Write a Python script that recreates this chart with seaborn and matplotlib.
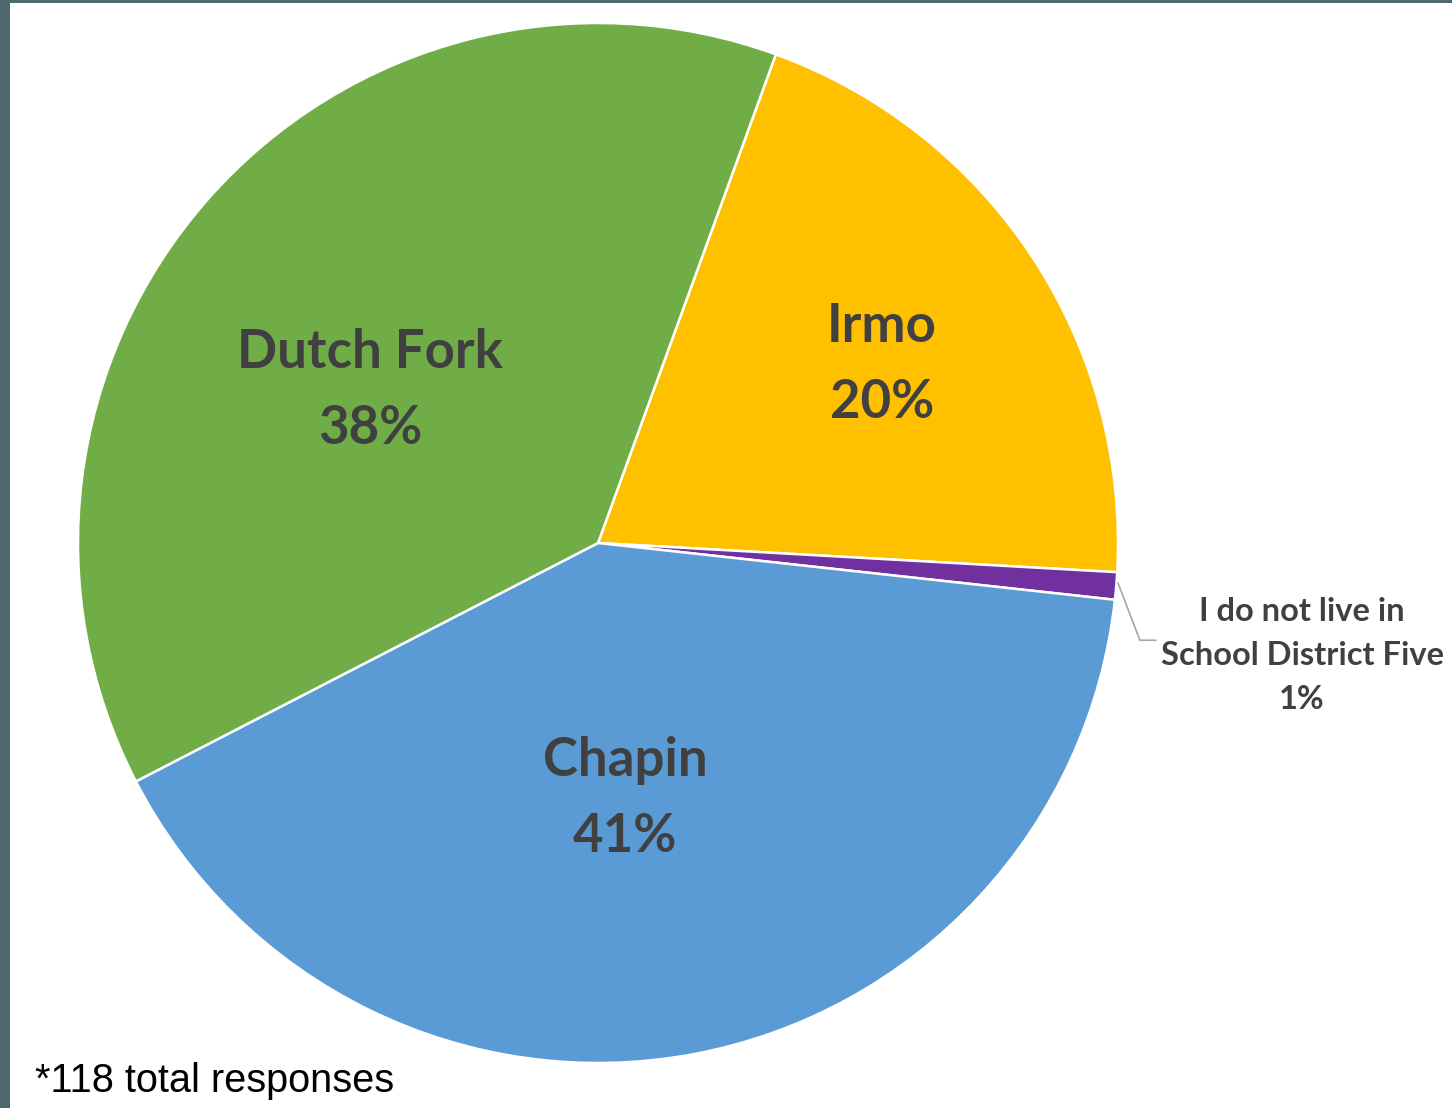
import matplotlib
matplotlib.use("Agg")
import matplotlib.pyplot as plt
from matplotlib.patches import Rectangle
import seaborn as sns

# survey answers, 118 total responses (order = clockwise from the Irmo edge)
schools = ["Irmo", "I do not live in\nSchool District Five", "Chapin", "Dutch Fork"]
responses = [24, 1, 48, 45]
pct_labels = ["20%", "1%", "41%", "38%"]
colors = ["#FFC000", "#7030A0", "#5B9BD5", "#70AD47"]

sns.set_theme(style="white")
plt.rcParams["font.family"] = ["Lato", "DejaVu Sans"]

fig = plt.figure(figsize=(14.52, 11.08), dpi=100, facecolor="#4f686e")
fig.patches.append(Rectangle((10 / 1452, 0), 1, 1 - 3 / 1108, transform=fig.transFigure,
                             facecolor="white", edgecolor="none", zorder=-10))

# pie centred at (598, 543) px, radius 520 px
ax = fig.add_axes([78 / 1452, 45 / 1108, 1040 / 1452, 1040 / 1108])
ax.set_zorder(1)
ax.patch.set_visible(False)
ax.pie(responses, colors=colors, startangle=70, counterclock=False, radius=1,
       wedgeprops=dict(edgecolor="white", linewidth=1.8))
ax.set_xlim(-1, 1)
ax.set_ylim(-1, 1)
ax.set_axis_off()

text_color = "#404040"
inside_pos = {"Irmo": (0.546, 0.344), "Chapin": (0.052, -0.492), "Dutch Fork": (-0.438, 0.294)}
for name, pct in zip(schools, pct_labels):
    if name in inside_pos:
        x, y = inside_pos[name]
        ax.text(x, y, f"{name}\n{pct}", ha="center", va="center", fontsize=38,
                fontweight="bold", color=text_color, linespacing=1.68)
    else:
        ax.text(1.354, -0.217, f"{name}\n{pct}", ha="center", va="center", fontsize=23.5,
                fontweight="bold", color=text_color, linespacing=1.62, clip_on=False)
        ax.plot([1.0, 1.042, 1.073], [-0.077, -0.187, -0.187], color="#a6a6a6",
                linewidth=1.2, clip_on=False)

fig.text(35 / 1452, 16 / 1108, "*118 total responses", fontsize=28.6, color="black",
         family=["Liberation Sans", "DejaVu Sans"], ha="left", va="baseline")

fig.savefig("out.png", dpi=100, facecolor=fig.get_facecolor())
